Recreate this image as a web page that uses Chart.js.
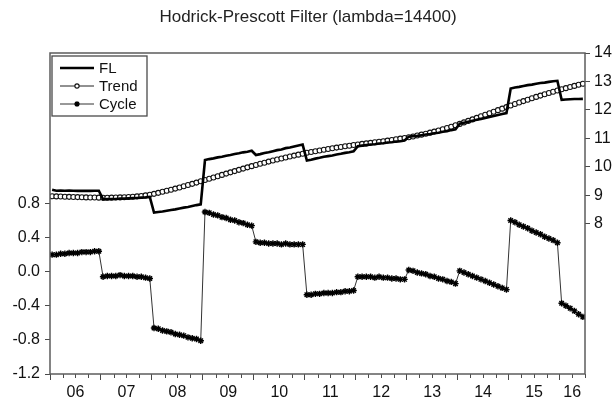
<!DOCTYPE html>
<html>
<head>
<meta charset="utf-8">
<title>Hodrick-Prescott Filter</title>
<script src="https://cdn.jsdelivr.net/npm/chart.js@4.4.1/dist/chart.umd.min.js"></script>
<style>
  html, body { margin: 0; padding: 0; background: #fff; }
  canvas { display: block; }
</style>
</head>
<body>
<canvas id="hp" width="616" height="401"></canvas>
<script>
// Monthly observations, 2006m1 .. 2016m6
const yearLabels = ['06', '07', '08', '09', '10', '11', '12', '13', '14', '15', '16'];
const leftTicks = [-1.2, -0.8, -0.4, 0.0, 0.4, 0.8];
const rightTicks = [8, 9, 10, 11, 12, 13, 14];

// FL (right axis)
const fl = [
  9.200, 9.165, 9.170, 9.165, 9.170, 9.165, 9.160, 9.165, 9.160, 9.158, 9.165, 9.162,
  8.860, 8.870, 8.872, 8.875, 8.890, 8.887, 8.895, 8.905, 8.907, 8.921, 8.930, 8.945,
  8.395, 8.420, 8.436, 8.463, 8.491, 8.510, 8.540, 8.571, 8.593, 8.626, 8.660, 8.685,
  10.240, 10.275, 10.300, 10.335, 10.360, 10.395, 10.420, 10.454, 10.478, 10.512, 10.535, 10.568,
  10.420, 10.450, 10.489, 10.517, 10.554, 10.590, 10.615, 10.660, 10.684, 10.718, 10.751, 10.784,
  10.227, 10.255, 10.292, 10.319, 10.355, 10.380, 10.404, 10.438, 10.461, 10.494, 10.516, 10.548,
  10.730, 10.748, 10.766, 10.785, 10.794, 10.824, 10.834, 10.855, 10.867, 10.890, 10.904, 10.928,
  11.063, 11.081, 11.091, 11.113, 11.137, 11.153, 11.181, 11.201, 11.233, 11.257, 11.293, 11.321,
  11.521, 11.553, 11.586, 11.619, 11.653, 11.687, 11.721, 11.755, 11.789, 11.823, 11.857, 11.891,
  12.755, 12.788, 12.810, 12.841, 12.871, 12.890, 12.918, 12.945, 12.961, 12.986, 13.010, 13.023,
  12.355, 12.366, 12.376, 12.385, 12.383, 12.390
];

// HP trend (right axis)
const trend = [
  8.970, 8.965, 8.960, 8.955, 8.950, 8.945, 8.940, 8.935, 8.930, 8.928, 8.925, 8.922,
  8.920, 8.920, 8.922, 8.925, 8.930, 8.937, 8.945, 8.955, 8.967, 8.981, 9.000, 9.025,
  9.055, 9.090, 9.126, 9.163, 9.201, 9.240, 9.280, 9.321, 9.363, 9.406, 9.450, 9.495,
  9.540, 9.585, 9.630, 9.675, 9.720, 9.765, 9.810, 9.854, 9.898, 9.942, 9.985, 10.028,
  10.070, 10.110, 10.149, 10.187, 10.224, 10.260, 10.295, 10.330, 10.364, 10.398, 10.431, 10.464,
  10.497, 10.525, 10.552, 10.579, 10.605, 10.630, 10.654, 10.678, 10.701, 10.724, 10.746, 10.768,
  10.790, 10.808, 10.826, 10.845, 10.864, 10.884, 10.904, 10.925, 10.947, 10.970, 10.994, 11.018,
  11.043, 11.071, 11.101, 11.133, 11.167, 11.203, 11.241, 11.281, 11.323, 11.367, 11.413, 11.461,
  11.511, 11.563, 11.616, 11.669, 11.723, 11.777, 11.831, 11.885, 11.939, 11.993, 12.047, 12.101,
  12.155, 12.208, 12.260, 12.311, 12.361, 12.410, 12.458, 12.505, 12.551, 12.596, 12.640, 12.683,
  12.725, 12.766, 12.806, 12.845, 12.883, 12.920
];

// Cycle (left axis)
const cycle = [
  0.20, 0.20, 0.21, 0.21, 0.22, 0.22, 0.22, 0.23, 0.23, 0.23, 0.24, 0.24,
  -0.06, -0.05, -0.05, -0.05, -0.04, -0.05, -0.05, -0.05, -0.06, -0.06, -0.07, -0.08,
  -0.66, -0.67, -0.69, -0.70, -0.71, -0.73, -0.74, -0.75, -0.77, -0.78, -0.79, -0.81,
  0.70, 0.69, 0.67, 0.66, 0.64, 0.63, 0.61, 0.60, 0.58, 0.57, 0.55, 0.54,
  0.35, 0.34, 0.34, 0.33, 0.33, 0.33, 0.32, 0.33, 0.32, 0.32, 0.32, 0.32,
  -0.27, -0.27, -0.26, -0.26, -0.25, -0.25, -0.25, -0.24, -0.24, -0.23, -0.23, -0.22,
  -0.06, -0.06, -0.06, -0.06, -0.07, -0.06, -0.07, -0.07, -0.08, -0.08, -0.09, -0.09,
  0.02, 0.01, -0.01, -0.02, -0.03, -0.05, -0.06, -0.08, -0.09, -0.11, -0.12, -0.14,
  0.01, -0.01, -0.03, -0.05, -0.07, -0.09, -0.11, -0.13, -0.15, -0.17, -0.19, -0.21,
  0.60, 0.58, 0.55, 0.53, 0.51, 0.48, 0.46, 0.44, 0.41, 0.39, 0.37, 0.34,
  -0.37, -0.40, -0.43, -0.46, -0.50, -0.53
];

const nMonths = fl.length;
const FONT = '"Liberation Sans", Arial, sans-serif';
const AXIS_COLOR = '#4a4a4a';

// each monthly value sits in the middle of its month slot
const toPoints = arr => arr.map((v, i) => ({ x: i + 0.5, y: v }));

// year label goes to the centre of the visible part of that year
function yearLabelAt(v) {
  for (let k = 0; k < yearLabels.length; k++) {
    const start = 12 * k;
    const centre = start + Math.min(12, nMonths - start) / 2;
    if (v === centre) return yearLabels[k];
  }
  return '';
}

// frame around the plot and the short quarterly tick marks
const frameAndMinorTicks = {
  id: 'frameAndMinorTicks',
  afterDraw(chart) {
    const { ctx, chartArea: a, scales: { x } } = chart;
    ctx.save();
    ctx.strokeStyle = AXIS_COLOR;
    ctx.lineWidth = 1;
    x.ticks.forEach(t => {
      if (t.value % 12 !== 0) {
        const px = Math.round(x.getPixelForValue(t.value)) + 0.5;
        ctx.beginPath();
        ctx.moveTo(px, a.bottom);
        ctx.lineTo(px, a.bottom + 4);
        ctx.stroke();
      }
    });
    ctx.strokeStyle = '#5c5c5c';
    ctx.lineWidth = 1.5;
    ctx.strokeRect(a.left, a.top, a.right - a.left, a.bottom - a.top);
    ctx.restore();
  }
};

// boxed legend in the upper-left corner of the plot
const boxedLegend = {
  id: 'boxedLegend',
  afterDatasetsDraw(chart) {
    const { ctx, chartArea: a } = chart;
    const x0 = a.left + 2, y0 = a.top + 3, w = 95, h = 60;
    ctx.save();
    ctx.fillStyle = '#fff';
    ctx.fillRect(x0, y0, w, h);
    ctx.strokeStyle = '#4a4a4a';
    ctx.lineWidth = 1.3;
    ctx.strokeRect(x0, y0, w, h);
    chart.data.datasets.forEach((ds, i) => {
      const yy = y0 + 12 + i * 18;
      ctx.strokeStyle = ds.borderColor;
      ctx.lineWidth = ds.borderWidth;
      ctx.beginPath();
      ctx.moveTo(x0 + 8, yy);
      ctx.lineTo(x0 + 42, yy);
      ctx.stroke();
      if (ds.pointRadius > 0) {
        ctx.fillStyle = ds.pointBackgroundColor;
        ctx.strokeStyle = ds.pointBorderColor;
        ctx.lineWidth = ds.pointBorderWidth;
        Chart.helpers.drawPoint(ctx, {
          pointStyle: ds.pointStyle, radius: ds.pointRadius * 0.85,
          borderWidth: ds.pointBorderWidth, rotation: 0
        }, x0 + 25, yy);
      }
      ctx.fillStyle = '#111';
      ctx.font = '15px ' + FONT;
      ctx.textBaseline = 'middle';
      ctx.textAlign = 'left';
      ctx.fillText(ds.label, x0 + 47, yy + 0.5);
    });
    ctx.restore();
  }
};

new Chart(document.getElementById('hp'), {
  type: 'line',
  data: {
    datasets: [
      {
        label: 'FL', data: toPoints(fl), yAxisID: 'yR',
        borderColor: '#000', borderWidth: 2.6, pointRadius: 0, tension: 0
      },
      {
        label: 'Trend', data: toPoints(trend), yAxisID: 'yR',
        borderColor: '#222', borderWidth: 1, tension: 0,
        pointStyle: 'circle', pointRadius: 2.5, pointBorderWidth: 1.1,
        pointBackgroundColor: '#fff', pointBorderColor: '#111'
      },
      {
        label: 'Cycle', data: toPoints(cycle), yAxisID: 'yL',
        borderColor: '#333', borderWidth: 1, tension: 0,
        pointStyle: 'star', pointRadius: 3.2, pointBorderWidth: 1.4,
        pointBackgroundColor: '#000', pointBorderColor: '#000'
      }
    ]
  },
  options: {
    responsive: false,
    animation: false,
    devicePixelRatio: 1,
    layout: { padding: 0 },
    plugins: {
      legend: { display: false },
      tooltip: { enabled: false },
      title: {
        display: true,
        text: 'Hodrick-Prescott Filter (lambda=14400)',
        color: '#222',
        font: { family: FONT, size: 17, weight: 'normal' },
        padding: { top: 7, bottom: 25.6 }
      }
    },
    scales: {
      x: {
        type: 'linear', min: 0, max: nMonths,
        afterBuildTicks(scale) {
          const t = [];
          for (let v = 0; v <= nMonths; v += 3) t.push({ value: v });
          scale.ticks = t;
        },
        ticks: {
          autoSkip: false, maxRotation: 0, padding: 3,
          color: '#111', font: { family: FONT, size: 16 },
          callback: v => yearLabelAt(v)
        },
        grid: {
          drawOnChartArea: false, tickLength: 6, tickWidth: 1,
          tickColor: c => (c.tick && c.tick.value % 12 === 0) ? AXIS_COLOR : 'rgba(0,0,0,0)'
        },
        border: { display: false },
        afterFit(scale) { scale.height = 27; }
      },
      yL: {
        position: 'left', min: -1.2, max: 2.565,
        afterBuildTicks(scale) { scale.ticks = leftTicks.map(v => ({ value: v })); },
        ticks: {
          padding: 5, color: '#111', font: { family: FONT, size: 16 },
          callback: v => v.toFixed(1)
        },
        grid: { drawOnChartArea: false, tickLength: 5, tickColor: AXIS_COLOR },
        border: { display: false },
        afterFit(scale) { scale.width = 50; }
      },
      yR: {
        position: 'right', min: 2.73, max: 14,
        afterBuildTicks(scale) { scale.ticks = rightTicks.map(v => ({ value: v })); },
        ticks: {
          padding: 4, color: '#111', font: { family: FONT, size: 16 },
          callback: v => String(v)
        },
        grid: { drawOnChartArea: false, tickLength: 5, tickColor: AXIS_COLOR },
        border: { display: false },
        afterFit(scale) { scale.width = 31; }
      }
    }
  },
  plugins: [frameAndMinorTicks, boxedLegend]
});
</script>
</body>
</html>
